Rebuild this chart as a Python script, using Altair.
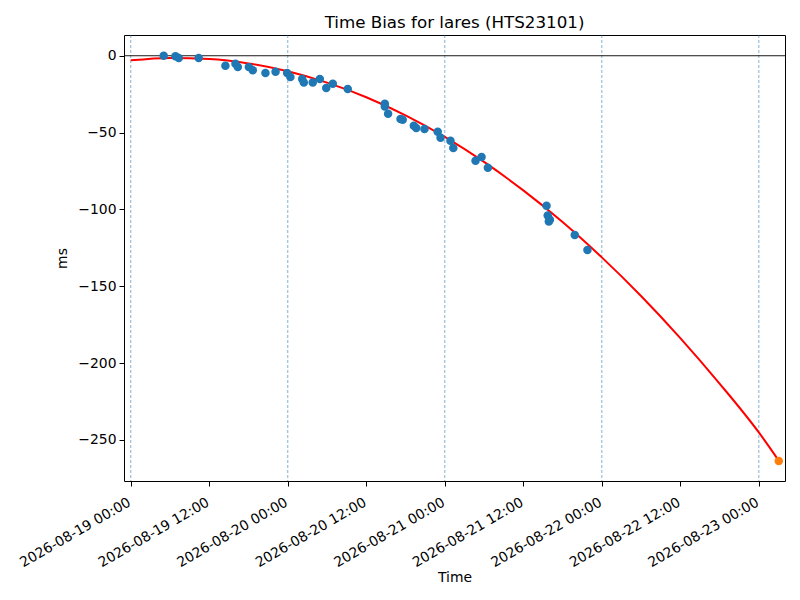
import altair as alt
import pandas as pd

# measured points (UTC)
pt_times = [
    "2026-08-19T05:02:00Z", "2026-08-19T06:50:00Z", "2026-08-19T07:20:00Z", "2026-08-19T10:23:00Z",
    "2026-08-19T14:28:00Z", "2026-08-19T16:00:00Z", "2026-08-19T16:22:00Z", "2026-08-19T18:03:00Z",
    "2026-08-19T18:39:00Z", "2026-08-19T20:35:00Z", "2026-08-19T22:08:00Z", "2026-08-19T23:54:00Z",
    "2026-08-20T00:24:00Z", "2026-08-20T02:12:00Z", "2026-08-20T02:27:00Z", "2026-08-20T03:49:00Z",
    "2026-08-20T04:54:00Z", "2026-08-20T05:53:00Z", "2026-08-20T06:53:00Z", "2026-08-20T09:10:00Z",
    "2026-08-20T14:50:00Z", "2026-08-20T14:50:00Z", "2026-08-20T15:20:00Z", "2026-08-20T17:14:00Z",
    "2026-08-20T17:34:00Z", "2026-08-20T19:16:00Z", "2026-08-20T19:38:00Z", "2026-08-20T20:54:00Z",
    "2026-08-20T22:55:00Z", "2026-08-20T23:21:00Z", "2026-08-21T00:52:00Z", "2026-08-21T01:18:00Z",
    "2026-08-21T04:42:00Z", "2026-08-21T05:37:00Z", "2026-08-21T06:35:00Z", "2026-08-21T15:33:00Z",
    "2026-08-21T15:44:00Z", "2026-08-21T15:54:00Z", "2026-08-21T16:04:00Z", "2026-08-21T19:52:00Z",
    "2026-08-21T21:48:00Z",
]
pt_values = [
    0.0, -0.4, -1.5, -1.5,
    -6.5, -5.2, -7.4, -7.4,
    -9.5, -11.3, -10.4, -11.3,
    -13.9, -15.2, -17.4, -17.4,
    -15.2, -21.0, -18.2, -21.6,
    -31.2, -33.0, -37.7, -41.2,
    -41.6, -45.5, -47.0, -47.7,
    -49.4, -53.4, -55.3, -60.0,
    -68.3, -65.9, -72.9, -97.6,
    -104.0, -107.8, -106.7, -116.7,
    -126.4,
]

# fitted curve
fit_times = [
    "2026-08-19T00:00:00Z", "2026-08-19T06:00:00Z", "2026-08-19T12:00:00Z", "2026-08-19T18:00:00Z",
    "2026-08-20T00:00:00Z", "2026-08-20T06:00:00Z", "2026-08-20T12:00:00Z", "2026-08-20T18:00:00Z",
    "2026-08-21T00:00:00Z", "2026-08-21T06:00:00Z", "2026-08-21T12:00:00Z", "2026-08-21T18:00:00Z",
    "2026-08-22T00:00:00Z", "2026-08-22T06:00:00Z", "2026-08-22T12:00:00Z", "2026-08-22T18:00:00Z",
    "2026-08-23T00:00:00Z", "2026-08-23T03:03:00Z",
]
fit_values = [
    -3.0, -1.4, -2.1, -5.0,
    -10.1, -17.5, -27.0, -38.8,
    -52.8, -69.1, -87.6, -108.2,
    -131.2, -156.3, -183.7, -213.3,
    -245.1, -263.5,
]

pred_times = ["2026-08-23T03:03:00Z"]
pred_values = [-263.7]

day_lines = ["2026-08-19T00:00:00Z", "2026-08-20T00:00:00Z", "2026-08-21T00:00:00Z",
             "2026-08-22T00:00:00Z", "2026-08-23T00:00:00Z"]

tick_times = ["2026-08-19T00:00:00Z", "2026-08-19T12:00:00Z", "2026-08-20T00:00:00Z",
              "2026-08-20T12:00:00Z", "2026-08-21T00:00:00Z", "2026-08-21T12:00:00Z",
              "2026-08-22T00:00:00Z", "2026-08-22T12:00:00Z", "2026-08-23T00:00:00Z"]
y_ticks = [0, -50, -100, -150, -200, -250]

x_domain = ["2026-08-18T22:58:00Z", "2026-08-23T04:00:00Z"]
y_domain = [-276.7, 13.5]


def ms(s):
    return int(pd.Timestamp(s).value // 10**6)


FONT = "DejaVu Sans"
FS = 13.9

xscale = alt.Scale(type="utc", domain=[ms(d) for d in x_domain], nice=False)
yscale = alt.Scale(domain=y_domain, nice=False, zero=False)

xaxis = alt.Axis(
    values=[ms(t) for t in tick_times],
    labelExpr="utcFormat(datum.value, '%Y-%m-%d %H:%M')",
    labelAngle=-30, labelAlign="right", labelBaseline="top", labelFontSize=FS,
    labelFont=FONT, labelColor="black", tickColor="black", tickSize=5, labelPadding=9,
    labelOffset=-5,
    grid=False, domain=False, title="Time", titleFont=FONT, titleFontSize=FS,
    titleFontWeight="normal", titleColor="black", titleY=96, titleBaseline="middle",
    labelFlush=False, labelOverlap=False,
)
yaxis = alt.Axis(
    values=y_ticks, labelFontSize=FS, labelFont=FONT, labelColor="black",
    tickColor="black", tickSize=5, labelPadding=3, grid=False, domain=False,
    title="ms", titleFont=FONT, titleFontSize=FS, titleFontWeight="normal",
    titleColor="black", titleX=-62, titleBaseline="middle",
)

pts = pd.DataFrame({"t": pt_times, "v": pt_values})
fit = pd.DataFrame({"t": fit_times, "v": fit_values})
pred = pd.DataFrame({"t": pred_times, "v": pred_values})
days = pd.DataFrame({"t": day_lines})
zero = pd.DataFrame({"v": [0]})

vlines = alt.Chart(days).mark_rule(color="#1f77b4", strokeWidth=0.7, strokeDash=[3, 2], opacity=0.8).encode(
    x=alt.X("t:T", scale=xscale, axis=xaxis)
)
hline = alt.Chart(zero).mark_rule(color="black", strokeWidth=0.9).encode(
    y=alt.Y("v:Q", scale=yscale, axis=yaxis)
)
line = alt.Chart(fit).mark_line(color="#ff0000", strokeWidth=2, interpolate="monotone").encode(
    x=alt.X("t:T", scale=xscale, axis=xaxis),
    y=alt.Y("v:Q", scale=yscale, axis=yaxis),
)
scatter = alt.Chart(pts).mark_circle(color="#1f77b4", size=72, opacity=1).encode(
    x=alt.X("t:T", scale=xscale, axis=xaxis),
    y=alt.Y("v:Q", scale=yscale, axis=yaxis),
)
orange = alt.Chart(pred).mark_circle(color="#ff7f0e", size=72, opacity=1).encode(
    x=alt.X("t:T", scale=xscale, axis=xaxis),
    y=alt.Y("v:Q", scale=yscale, axis=yaxis),
)

chart = alt.layer(vlines, hline, line, scatter, orange).properties(
    width=661, height=446,
    title=alt.TitleParams("Time Bias for lares (HTS23101)", font=FONT, fontSize=16.7,
                          fontWeight="normal", color="black", anchor="middle", offset=3),
    autosize=alt.AutoSizeParams(type="none"),
    padding={"left": 116, "top": 27, "right": 6, "bottom": 110},
).configure_view(stroke="black", strokeWidth=1)

chart.save("out.html", embed_options={"renderer": "svg", "actions": False})
